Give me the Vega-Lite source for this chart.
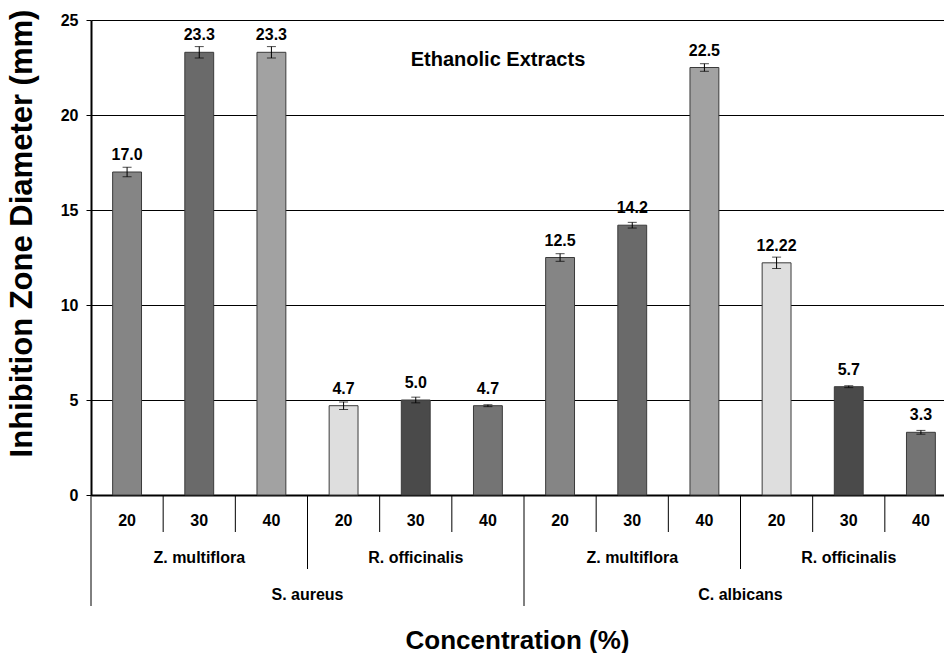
{
  "$schema": "https://vega.github.io/schema/vega-lite/v6.json",
  "autosize": {"type": "pad"},
  "padding": {"left": 6, "top": 9, "right": 0, "bottom": 0},
  "bounds": "flush",
  "spacing": 0,
  "config": {
    "font": "Liberation Sans",
    "view": {"stroke": null},
    "text": {"color": "black"}
  },
  "datasets": {
    "bars": [
      {"id": 1, "organism": "S. aureus", "plant": "Z. multiflora", "conc": "20", "series": "Z20", "value": 17.0, "sd": 0.25, "label": "17.0"},
      {"id": 2, "organism": "S. aureus", "plant": "Z. multiflora", "conc": "30", "series": "Z30", "value": 23.3, "sd": 0.3, "label": "23.3"},
      {"id": 3, "organism": "S. aureus", "plant": "Z. multiflora", "conc": "40", "series": "Z40", "value": 23.3, "sd": 0.3, "label": "23.3"},
      {"id": 4, "organism": "S. aureus", "plant": "R. officinalis", "conc": "20", "series": "R20", "value": 4.7, "sd": 0.2, "label": "4.7"},
      {"id": 5, "organism": "S. aureus", "plant": "R. officinalis", "conc": "30", "series": "R30", "value": 5.0, "sd": 0.15, "label": "5.0"},
      {"id": 6, "organism": "S. aureus", "plant": "R. officinalis", "conc": "40", "series": "R40", "value": 4.7, "sd": 0.05, "label": "4.7"},
      {"id": 7, "organism": "C. albicans", "plant": "Z. multiflora", "conc": "20", "series": "Z20", "value": 12.5, "sd": 0.2, "label": "12.5"},
      {"id": 8, "organism": "C. albicans", "plant": "Z. multiflora", "conc": "30", "series": "Z30", "value": 14.2, "sd": 0.15, "label": "14.2"},
      {"id": 9, "organism": "C. albicans", "plant": "Z. multiflora", "conc": "40", "series": "Z40", "value": 22.5, "sd": 0.2, "label": "22.5"},
      {"id": 10, "organism": "C. albicans", "plant": "R. officinalis", "conc": "20", "series": "R20", "value": 12.22, "sd": 0.3, "label": "12.22"},
      {"id": 11, "organism": "C. albicans", "plant": "R. officinalis", "conc": "30", "series": "R30", "value": 5.7, "sd": 0.05, "label": "5.7"},
      {"id": 12, "organism": "C. albicans", "plant": "R. officinalis", "conc": "40", "series": "R40", "value": 3.3, "sd": 0.1, "label": "3.3"}
    ],
    "seps": [
      {"id": 1, "depth": 3}, {"id": 2, "depth": 1}, {"id": 3, "depth": 1},
      {"id": 4, "depth": 2}, {"id": 5, "depth": 1}, {"id": 6, "depth": 1},
      {"id": 7, "depth": 3}, {"id": 8, "depth": 1}, {"id": 9, "depth": 1},
      {"id": 10, "depth": 2}, {"id": 11, "depth": 1}, {"id": 12, "depth": 1}
    ],
    "edge": [{"id": 12, "depth": 3}],
    "plants": [
      {"id": 2, "name": "Z. multiflora"}, {"id": 5, "name": "R. officinalis"},
      {"id": 8, "name": "Z. multiflora"}, {"id": 11, "name": "R. officinalis"}
    ],
    "organisms": [
      {"id": 4, "name": "S. aureus"}, {"id": 10, "name": "C. albicans"}
    ],
    "note": [{"id": 6, "note": "Ethanolic Extracts"}]
  },
  "vconcat": [
    {
      "width": 866,
      "height": 475,
      "layer": [
        {
          "data": {"name": "bars"},
          "mark": {"type": "bar", "width": {"band": 0.4}, "stroke": "#3a3a3a", "strokeWidth": 1},
          "encoding": {
            "x": {
              "field": "id", "type": "ordinal",
              "scale": {"domain": [1,2,3,4,5,6,7,8,9,10,11,12], "paddingInner": 0, "paddingOuter": 0},
              "axis": {"title": null, "labels": false, "ticks": false, "grid": false, "domain": true, "domainColor": "black", "domainWidth": 2, "labelPadding": 0, "minExtent": 0}
            },
            "y": {
              "field": "value", "type": "quantitative",
              "title": "Inhibition Zone Diameter (mm)",
              "scale": {"domain": [0, 25], "nice": false},
              "axis": {
                "values": [0, 5, 10, 15, 20, 25],
                "grid": true, "gridColor": "black", "gridOpacity": 1, "gridWidth": 1,
                "domainColor": "black", "domainWidth": 2,
                "tickColor": "black", "tickSize": 5, "tickWidth": 1,
                "labelFontSize": 16, "labelFontWeight": "bold", "labelColor": "black", "labelPadding": 8,
                "titleFontSize": 31, "titleFontWeight": "bold", "titleColor": "black",
                "titlePadding": 22, "titleY": 213
              }
            },
            "color": {
              "field": "series", "type": "nominal",
              "scale": {"domain": ["Z20", "Z30", "Z40", "R20", "R30", "R40"], "range": ["#858585", "#6a6a6a", "#a2a2a2", "#dedede", "#4a4a4a", "#747474"]},
              "legend": null
            }
          }
        },
        {
          "data": {"name": "bars"},
          "mark": {"type": "errorbar", "ticks": {"size": 9}, "color": "black", "thickness": 1},
          "encoding": {
            "x": {"field": "id", "type": "ordinal"},
            "y": {"field": "value", "type": "quantitative", "title": "Inhibition Zone Diameter (mm)"},
            "yError": {"field": "sd"}
          }
        },
        {
          "data": {"name": "bars"},
          "mark": {"type": "text", "fontSize": 16, "fontWeight": "bold", "baseline": "alphabetic", "dy": -12},
          "encoding": {
            "x": {"field": "id", "type": "ordinal"},
            "y": {"field": "value", "type": "quantitative", "title": "Inhibition Zone Diameter (mm)"},
            "text": {"field": "label"}
          }
        },
        {
          "data": {"name": "note"},
          "mark": {"type": "text", "fontSize": 20, "fontWeight": "bold", "baseline": "middle"},
          "encoding": {
            "x": {"field": "id", "type": "ordinal", "bandPosition": 0.64},
            "y": {"datum": 22.9, "type": "quantitative", "title": "Inhibition Zone Diameter (mm)"},
            "text": {"field": "note"}
          }
        }
      ]
    },
    {
      "width": 866,
      "height": 111,
      "layer": [
        {
          "data": {"name": "seps"},
          "mark": {"type": "rule", "color": "black", "strokeWidth": 1},
          "encoding": {
            "x": {
              "field": "id", "type": "ordinal", "bandPosition": 0,
              "scale": {"domain": [1,2,3,4,5,6,7,8,9,10,11,12], "paddingInner": 0, "paddingOuter": 0},
              "axis": {
                "title": "Concentration (%)", "labels": false, "ticks": false, "domain": false, "grid": false,
                "titleFontSize": 26, "titleFontWeight": "bold", "titleColor": "black",
                "titlePadding": 21, "titleX": 426
              }
            },
            "y": {"field": "depth", "type": "quantitative", "scale": {"domain": [0, 3], "reverse": true}, "axis": null},
            "y2": {"datum": 0}
          }
        },
        {
          "data": {"name": "edge"},
          "mark": {"type": "rule", "color": "black", "strokeWidth": 1},
          "encoding": {
            "x": {"field": "id", "type": "ordinal", "bandPosition": 1},
            "y": {"field": "depth", "type": "quantitative"},
            "y2": {"datum": 0}
          }
        },
        {
          "data": {"name": "bars"},
          "mark": {"type": "text", "fontSize": 16, "fontWeight": "bold", "baseline": "middle"},
          "encoding": {
            "x": {"field": "id", "type": "ordinal"},
            "y": {"datum": 0.7, "type": "quantitative"},
            "text": {"field": "conc"}
          }
        },
        {
          "data": {"name": "plants"},
          "mark": {"type": "text", "fontSize": 16, "fontWeight": "bold", "baseline": "middle"},
          "encoding": {
            "x": {"field": "id", "type": "ordinal"},
            "y": {"datum": 1.7, "type": "quantitative"},
            "text": {"field": "name"}
          }
        },
        {
          "data": {"name": "organisms"},
          "mark": {"type": "text", "fontSize": 16, "fontWeight": "bold", "baseline": "middle"},
          "encoding": {
            "x": {"field": "id", "type": "ordinal", "bandPosition": 0},
            "y": {"datum": 2.7, "type": "quantitative"},
            "text": {"field": "name"}
          }
        }
      ]
    }
  ]
}
